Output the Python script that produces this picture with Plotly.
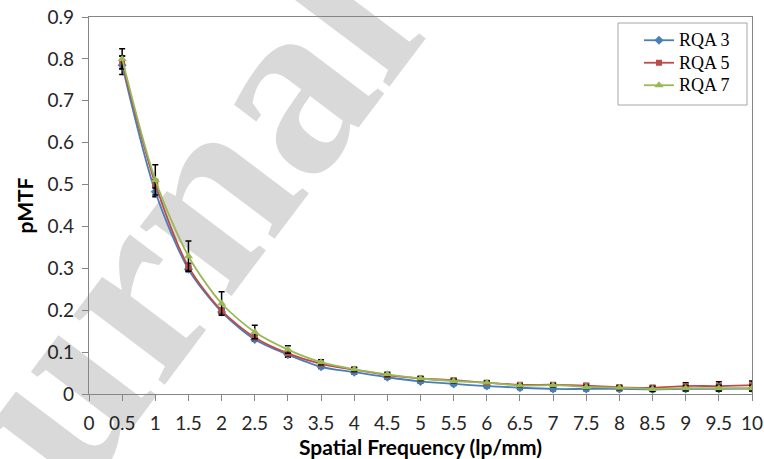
import base64
import plotly.graph_objects as go

# Spatial frequency sample points (lp/mm)
freq = [0.5, 1, 1.5, 2, 2.5, 3, 3.5, 4, 4.5, 5, 5.5, 6, 6.5, 7, 7.5, 8, 8.5, 9, 9.5, 10]

# pMTF per beam quality
rqa3 = [0.785, 0.483, 0.298, 0.196, 0.130, 0.094, 0.065, 0.052, 0.040, 0.030,
        0.024, 0.019, 0.015, 0.012, 0.012, 0.012, 0.011, 0.012, 0.012, 0.013]
rqa5 = [0.792, 0.502, 0.304, 0.199, 0.135, 0.097, 0.072, 0.058, 0.045, 0.037,
        0.033, 0.027, 0.022, 0.022, 0.020, 0.016, 0.015, 0.019, 0.019, 0.021]
rqa7 = [0.800, 0.511, 0.329, 0.216, 0.148, 0.106, 0.076, 0.059, 0.047, 0.037,
        0.031, 0.027, 0.020, 0.021, 0.017, 0.015, 0.012, 0.014, 0.014, 0.014]

# Standard deviations
err3 = [0.022, 0.012, 0.006, 0.005, 0.004, 0.006, 0.004, 0.004, 0.004, 0.004,
        0.004, 0.004, 0.004, 0.004, 0.004, 0.004, 0.004, 0.005, 0.005, 0.006]
err5 = [0.015, 0.010, 0.008, 0.006, 0.005, 0.006, 0.004, 0.004, 0.004, 0.004,
        0.004, 0.004, 0.004, 0.004, 0.005, 0.005, 0.005, 0.008, 0.010, 0.010]
err7 = [0.024, 0.036, 0.036, 0.028, 0.016, 0.009, 0.006, 0.005, 0.005, 0.005,
        0.004, 0.004, 0.004, 0.004, 0.004, 0.004, 0.006, 0.006, 0.007, 0.007]

x_ticks = [i * 0.5 for i in range(21)]
x_labels = ["0", "0.5", "1", "1.5", "2", "2.5", "3", "3.5", "4", "4.5", "5",
            "5.5", "6", "6.5", "7", "7.5", "8", "8.5", "9", "9.5", "10"]
y_ticks = [i / 10 for i in range(10)]
y_labels = ["0", "0.1", "0.2", "0.3", "0.4", "0.5", "0.6", "0.7", "0.8", "0.9"]

W, H = 764, 459
ML, MR, MT, MB = 89, 12, 17, 65
PW, PH = W - ML - MR, H - MT - MB


def px_x(px):
    return (px - ML) / PW


def px_y(py):
    return 1 - (py - MT) / PH


series = [
    ("RQA 3", rqa3, err3, "#4A7EBB", "diamond", 7),
    ("RQA 5", rqa5, err5, "#BE4B48", "square", 6),
    ("RQA 7", rqa7, err7, "#98B954", "triangle-up", 8),
]

fig = go.Figure()
for name, vals, err, col, sym, size in series:
    fig.add_trace(go.Scatter(
        x=freq, y=vals, mode="lines+markers",
        name=f'<span style="font-size:18px">{name}</span>',
        line=dict(color=col, width=1.8, shape="spline", smoothing=0.8),
        marker=dict(symbol=sym, size=size, color=col),
        error_y=dict(type="data", array=err, visible=True, color="#000000",
                     thickness=1.5, width=3),
    ))

# Watermark drawn beneath the data
WX, WY, WS = 110, 317, 250
wm = (
    f'<svg xmlns="http://www.w3.org/2000/svg" width="{W}" height="{H}" viewBox="0 0 {W} {H}">'
    f'<text x="{WX}" y="{WY}" text-anchor="middle" dominant-baseline="central" '
    'font-family="Liberation Serif, DejaVu Serif, serif" font-weight="bold" '
    f'font-size="{WS}" fill="#d9d9d9" transform="rotate(-53 {WX} {WY})">Journal</text>'
    '</svg>'
)
wm_src = "data:image/svg+xml;base64," + base64.b64encode(wm.encode()).decode()

axis_font = dict(family="Lato, sans-serif", size=19, color="#262626")
title_font = dict(family="Lato, sans-serif", size=21, color="#000")

fig.update_layout(
    width=W, height=H,
    margin=dict(l=ML, r=MR, t=MT, b=MB, pad=0, autoexpand=False),
    paper_bgcolor="white", plot_bgcolor="rgba(0,0,0,0)",
    showlegend=True,
    legend=dict(
        x=px_x(639), y=px_y(24), xanchor="left", yanchor="top",
        bgcolor="rgba(0,0,0,0)", borderwidth=0,
        font=dict(family="Liberation Serif, Times New Roman, serif", size=15, color="#000"),
    ),
    images=[dict(
        source=wm_src, xref="paper", yref="paper",
        x=-ML / PW, y=1 + MT / PH, sizex=W / PW, sizey=H / PH,
        xanchor="left", yanchor="top", sizing="stretch", layer="below",
    )],
    shapes=[dict(
        type="rect", xref="paper", yref="paper",
        x0=px_x(618), x1=px_x(747), y0=px_y(105), y1=px_y(23),
        line=dict(color="#a6a6a6", width=1), fillcolor="rgba(0,0,0,0)",
    )],
    xaxis=dict(
        range=[0, 10], tickvals=x_ticks, ticktext=x_labels,
        showgrid=False, zeroline=False, automargin=False,
        showline=True, linecolor="#868686", linewidth=1.3, mirror=True,
        ticks="outside", ticklen=6, tickcolor="#868686",
        tickfont=axis_font, ticklabelstandoff=6,
        title=dict(text="<b>Spatial Frequency (lp/mm)</b>", font=title_font,
                   standoff=8),
    ),
    yaxis=dict(
        range=[0, 0.9], tickvals=y_ticks, ticktext=y_labels,
        showgrid=False, zeroline=False, automargin=False,
        showline=True, linecolor="#868686", linewidth=1.3, mirror=True,
        ticks="outside", ticklen=6, tickcolor="#868686",
        tickfont=axis_font, ticklabelstandoff=4,
        title=dict(text="<b>pMTF</b>", font=title_font, standoff=8),
    ),
)

fig.write_html("out.html")
